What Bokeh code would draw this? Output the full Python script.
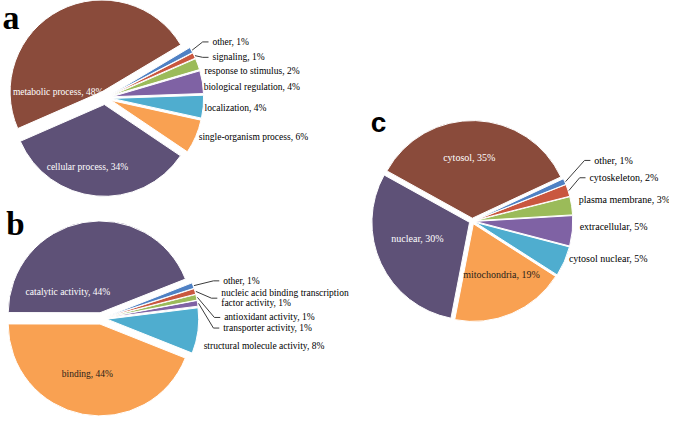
import math
from bokeh.plotting import figure
from bokeh.models import Range1d, ColumnDataSource
from bokeh.embed import file_html
from bokeh.resources import INLINE
from bokeh.core.properties import value

# ---------------- data ----------------
a_names = ["metabolic process", "cellular process", "single-organism process",
           "localization", "biological regulation", "response to stimulus",
           "signaling", "other"]
a_values = [48, 34, 6, 4, 4, 2, 1, 1]

b_names = ["catalytic activity", "binding", "structural molecule activity",
           "transporter activity", "antioxidant activity",
           "nucleic acid binding transcription\nfactor activity", "other"]
b_values = [44, 44, 8, 1, 1, 1, 1]

c_names = ["cytosol", "nuclear", "mitochondria", "cytosol nuclear",
           "extracellular", "plasma membrane", "cytoskeleton", "other"]
c_values = [35, 30, 19, 5, 5, 3, 2, 1]

panel_letters = ["a", "b", "c"]

# ---------------- styles ----------------
BROWN = "#8A4B3B"
DPURPLE = "#5E5177"
ORANGE = "#F9A152"
CYAN = "#4FADCF"
PURPLE = "#7F62A4"
GREEN = "#9BBB59"
RED = "#C9573F"
BLUE = "#4F81C4"

a_colors = [BROWN, DPURPLE, ORANGE, CYAN, PURPLE, GREEN, RED, BLUE]
b_colors = [DPURPLE, ORANGE, CYAN, PURPLE, GREEN, RED, BLUE]
c_colors = [BROWN, DPURPLE, ORANGE, CYAN, PURPLE, GREEN, RED, BLUE]

W_REF, H_REF = 685, 437
FONT = "Liberation Serif"

# layout (reference pixel coords, y down)
a_layout = dict(center=(107, 101), r=94, explode=7, start=30.8, size="9.5px",
                labels=[(59, 95, "center", "white"), (89, 173, "center", "white"),
                        (203, 142, "left", "black"), (209, 112, "left", "black"),
                        (208, 90, "left", "black"), (209, 73, "left", "black"),
                        (217, 59, "left", "black"), (217, 43, "left", "black")],
                leaders=[6, 7])
b_layout = dict(center=(103, 330), r=94, explode=6, start=21.5, size="9.5px",
                labels=[(69, 303, "center", "white"), (89, 388, "center", "#2a2118"),
                        (208, 359, "left", "black"), (228, 340, "left", "black"),
                        (229, 329, "left", "black"), (226, 309, "left", "black"),
                        (228, 291, "left", "black")],
                leaders=[3, 4, 5, 6])
c_layout = dict(center=(483, 229), r=100, explode=3, start=25.0, size="10px",
                labels=[(480, 163, "center", "white"), (427, 247, "center", "white"),
                        (513, 284, "center", "#2a2118"), (582, 268, "left", "black"),
                        (593, 235, "left", "black"), (592, 207, "left", "black"),
                        (603, 184, "left", "black"), (608, 166, "left", "black")],
                leaders=[6, 7])

letter_layout = [(2, 18, "34px", "Liberation Serif"),
                 (6, 232, "33px", "Liberation Serif"),
                 (379, 127, "28px", "Liberation Sans")]

p = figure(width=669, height=421, x_range=Range1d(0, W_REF), y_range=Range1d(0, H_REF),
           output_backend="svg", toolbar_location=None,
           x_axis_location=None, y_axis_location=None,
           min_border=0, outline_line_color=None, background_fill_color="white")
p.grid.visible = False


def Y(y):
    return H_REF - y


def draw_pie(names, values, colors, lay):
    cx, cy = lay["center"]
    cy = Y(cy)
    r = lay["r"]
    ex = lay["explode"]
    total = float(sum(values))
    ang = lay["start"]
    xs, ys, st, en, mids = [], [], [], [], []
    for v in values:
        span = 360.0 * v / total
        s, e = ang, ang + span
        m = math.radians((s + e) / 2.0)
        xs.append(cx + ex * math.cos(m))
        ys.append(cy + ex * math.sin(m))
        st.append(math.radians(s))
        en.append(math.radians(e))
        mids.append(m)
        ang = e
    src = ColumnDataSource(dict(x=xs, y=ys, start=st, end=en, color=colors))
    p.wedge(x="x", y="y", radius=r, start_angle="start", end_angle="end",
            fill_color="color", line_color="white", line_width=1, source=src)

    for i, (name, v) in enumerate(zip(names, values)):
        lx, ly, align, col = lay["labels"][i]
        p.text(x=[lx], y=[Y(ly)], text=[f"{name}, {v}%"],
               text_font=value(FONT), text_font_size=value(lay["size"]),
               text_color=col, text_align=align, text_baseline="middle",
               text_line_height=0.95)
        if i in lay["leaders"]:
            sx = xs[i] + (r + 1) * math.cos(mids[i])
            sy = ys[i] + (r + 1) * math.sin(mids[i])
            p.line(x=[sx, lx - 10, lx - 4], y=[sy, Y(ly), Y(ly)],
                   line_color="#3c3c3c", line_width=1)


draw_pie(a_names, a_values, a_colors, a_layout)
draw_pie(b_names, b_values, b_colors, b_layout)
draw_pie(c_names, c_values, c_colors, c_layout)

for letter, (lx, ly, size, font) in zip(panel_letters, letter_layout):
    p.text(x=[lx], y=[Y(ly)], text=[letter], text_font=value(font),
           text_font_size=value(size), text_font_style="bold",
           text_color="black", text_align="left", text_baseline="alphabetic")

open("out.html", "w").write(file_html(p, INLINE))
